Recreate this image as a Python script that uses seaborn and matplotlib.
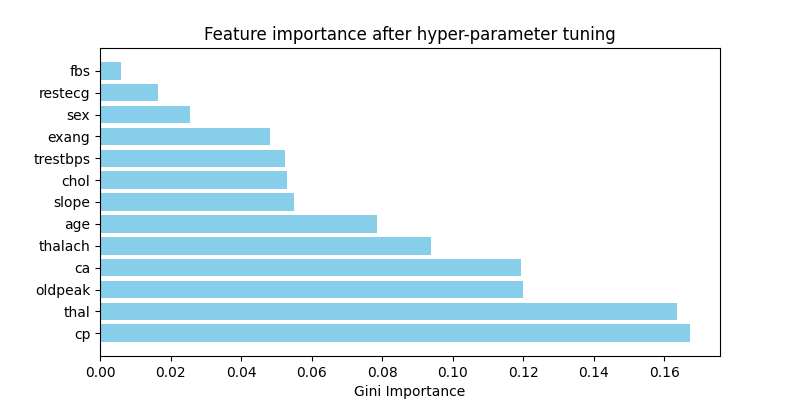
"""
Feature importance bar chart (after hyper-parameter tuning)
"""
import pandas as pd
import matplotlib
matplotlib.use('Agg')
import matplotlib.pyplot as plt
import seaborn as sns

# Features listed top to bottom as they appear on the chart
features = ['fbs', 'restecg', 'sex', 'exang', 'trestbps', 'chol', 'slope',
            'age', 'thalach', 'ca', 'oldpeak', 'thal', 'cp']
importance = [0.0060, 0.0165, 0.0255, 0.0482, 0.0525, 0.0530, 0.0550,
              0.0786, 0.0939, 0.1194, 0.1200, 0.1637, 0.1674]

df = pd.DataFrame({'feature': features, 'importance': importance})

fig, ax = plt.subplots(figsize=(8, 4), dpi=100)

sns.barplot(data=df, x='importance', y='feature', order=features,
            color='skyblue', saturation=1, width=0.8, linewidth=0, ax=ax)

# match matplotlib barh default margins
n = len(features)
ax.set_ylim(n - 1 + 0.4 + 0.64, -0.4 - 0.64)
ax.set_xlim(0, max(importance) * 1.05)

ax.set_ylabel('')
ax.set_xlabel('Gini Importance')
ax.set_title('Feature importance after hyper-parameter tuning')

plt.savefig('out.png', dpi=100)
plt.close()
